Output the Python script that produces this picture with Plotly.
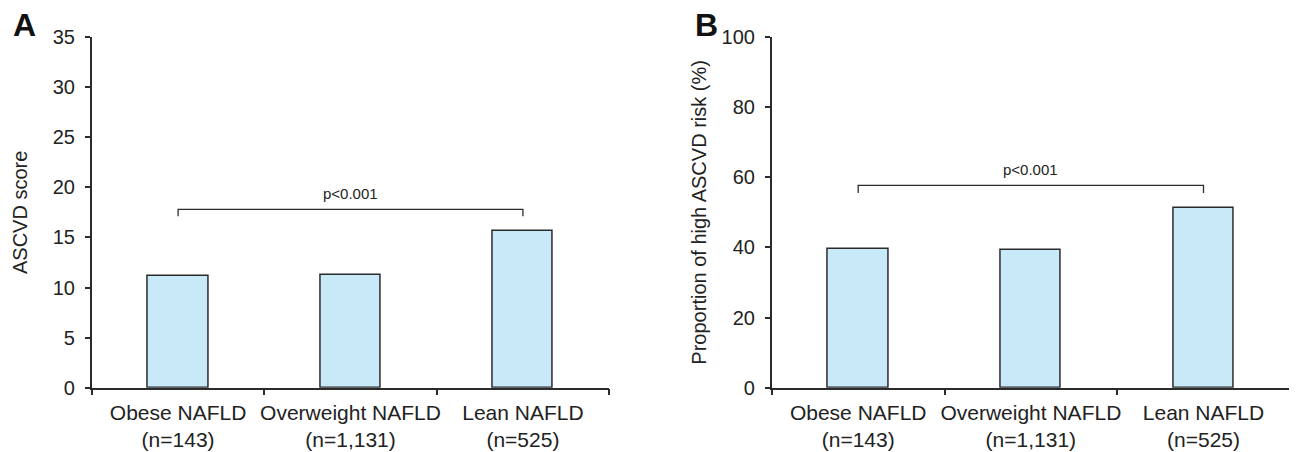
import plotly.graph_objects as go

# The page body adds an 8px offset; size the figure to fit the window.
OFF = 8
W, H = 1297 - OFF, 452 - OFF

categories = ["Obese NAFLD<br>(n=143)", "Overweight NAFLD<br>(n=1,131)", "Lean NAFLD<br>(n=525)"]
ascvd_score = [11.1, 11.2, 15.6]
high_risk_pct = [39.5, 39.4, 51.3]

bracket_a = {"top": 17.8, "foot": 17.1, "label": "p<0.001"}
bracket_b = {"top": 57.7, "foot": 55.5, "label": "p<0.001"}

ytick_a = [0, 5, 10, 15, 20, 25, 30, 35]
ytick_b = [0, 20, 40, 60, 80, 100]

FONT = "Liberation Sans, Arial, sans-serif"
BAR_FILL = "#C8E9F8"
LINE = "#2b2b2b"

xpos = list(range(len(categories)))


def px(X):
    return (X - OFF) / W


def py(Y):
    return 1 - (Y - OFF) / H


fig = go.Figure()
fig.add_trace(go.Bar(x=xpos, y=ascvd_score, width=0.35, marker=dict(color=BAR_FILL, line=dict(color=LINE, width=1.5)),
                     xaxis="x", yaxis="y", showlegend=False))
fig.add_trace(go.Bar(x=xpos, y=high_risk_pct, width=0.35, marker=dict(color=BAR_FILL, line=dict(color=LINE, width=1.5)),
                     xaxis="x2", yaxis="y2", showlegend=False))

for br, xa, ya in [(bracket_a, "x", "y"), (bracket_b, "x2", "y2")]:
    fig.add_trace(go.Scatter(x=[xpos[0], xpos[0], xpos[-1], xpos[-1]],
                             y=[br["foot"], br["top"], br["top"], br["foot"]],
                             mode="lines", line=dict(color=LINE, width=1.3),
                             xaxis=xa, yaxis=ya, showlegend=False, hoverinfo="skip"))
    fig.add_annotation(x=xpos[1], y=br["top"], xref=xa, yref=ya, text=br["label"], showarrow=False,
                       yanchor="bottom", yshift=5, font=dict(family=FONT, size=15, color="#222"))

ydom = [py(387.7), py(37)]
xdom_a = [px(91.7), px(609.3)]
xdom_b = [px(771.7), px(1290)]


def xaxis(dom, anchor):
    return dict(domain=dom, anchor=anchor, range=[-0.501, 2.501], automargin=False,
                tickmode="array", tickvals=xpos, ticktext=categories,
                ticks="", showline=True, linecolor=LINE, linewidth=1.5,
                showgrid=False, zeroline=False, ticklabelstandoff=5,
                tickfont=dict(family=FONT, size=21, color="#222"),
                minor=dict(tick0=-0.5, dtick=1, ticks="outside", ticklen=6, tickwidth=1.5, tickcolor=LINE, showgrid=False))


def yaxis(dom, anchor, rng, tv, title, standoff):
    return dict(domain=dom, anchor=anchor, range=rng, tickmode="array", tickvals=tv, automargin=False,
                ticks="outside", ticklen=5, tickwidth=1.5, tickcolor=LINE,
                showline=True, linecolor=LINE, linewidth=1.5, showgrid=False, zeroline=False,
                ticklabelstandoff=6,
                tickfont=dict(family=FONT, size=20, color="#222"),
                title=dict(text=title, standoff=standoff, font=dict(family=FONT, size=20, color="#222")))


fig.update_layout(
    width=W, height=H, margin=dict(l=0, r=0, t=0, b=0),
    paper_bgcolor="white", plot_bgcolor="white", bargap=0,
    xaxis=xaxis(xdom_a, "y"),
    yaxis=yaxis(ydom, "x", [0, 35], ytick_a, "ASCVD score", 20),
    xaxis2=xaxis(xdom_b, "y2"),
    yaxis2=yaxis(ydom, "x2", [0, 100], ytick_b, "Proportion of high ASCVD risk (%)", 10),
)

fig.add_annotation(x=px(24), y=py(25), xref="paper", yref="paper", text="<b>A</b>", showarrow=False,
                   xanchor="center", yanchor="middle", font=dict(family=FONT, size=32, color="#111"))
fig.add_annotation(x=px(706), y=py(25), xref="paper", yref="paper", text="<b>B</b>", showarrow=False,
                   xanchor="center", yanchor="middle", font=dict(family=FONT, size=32, color="#111"))

fig.write_html("out.html")
